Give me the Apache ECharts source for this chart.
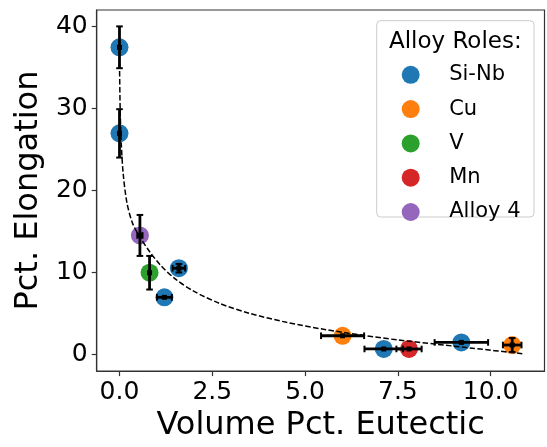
<!DOCTYPE html>
<html>
<head>
<meta charset="utf-8">
<script src="https://cdn.jsdelivr.net/npm/echarts@6/dist/echarts.min.js"></script>
<style>
  html, body { margin: 0; padding: 0; background: #fff; }
  #chart { width: 547px; height: 447px; }
</style>
</head>
<body>
<div id="chart"></div>
<script>
// ---- data ----
const roles = ['Si-Nb', 'Cu', 'V', 'Mn', 'Alloy 4'];
const roleColors = ['#1f77b4', '#ff7f0e', '#2ca02c', '#d62728', '#9467bd'];

const pointRole = ['Si-Nb', 'Si-Nb', 'Si-Nb', 'Si-Nb', 'Si-Nb', 'Si-Nb', 'Cu', 'Cu', 'V', 'Mn', 'Alloy 4'];
const pointX    = [0.0,  0.0,  1.60, 1.21, 7.12, 9.21, 6.01, 10.58, 0.81, 7.80, 0.55];
const pointY    = [37.45, 26.95, 10.5, 6.95, 0.65, 1.45, 2.26, 1.13, 9.95, 0.65, 14.5];
const pointXErr = [0,    0,    0.17, 0.20, 0.52, 0.72, 0.58, 0.25, 0,    0.34, 0.07];
const pointYErr = [2.55, 2.95, 0.52, 0,    0,    0,    0,    0.85, 2.05, 0,    2.5];

const fitX = [0.0, 0.02, 0.05, 0.1, 0.2, 0.35, 0.55, 0.8, 1.1, 1.5, 2.0, 2.7, 3.5, 4.5, 5.5, 6.5, 7.5, 8.5, 9.5, 10.9];
const fitY = [35.5, 29.5, 25.5, 22.0, 18.5, 16.0, 14.3, 12.6, 10.9, 9.2, 7.7, 6.2, 5.0, 3.9, 3.05, 2.35, 1.75, 1.25, 0.75, 0.05];

const xTicks = [0, 2.5, 5, 7.5, 10];
const yTicks = [0, 10, 20, 30, 40];

const FONT = 'DejaVu Sans';

// ---- build series ----
const scatterSeries = roles.map((r, i) => ({
  name: r,
  type: 'scatter',
  symbol: 'circle',
  symbolSize: 18,
  itemStyle: { color: roleColors[i], opacity: 1 },
  z: 2,
  data: pointX.map((x, k) => [x, pointY[k], pointRole[k]]).filter(d => d[2] === r).map(d => [d[0], d[1]])
}));

const errData = pointX.map((x, k) => [x, pointY[k], pointXErr[k], pointYErr[k]]);

const errSeries = {
  type: 'custom',
  z: 4,
  silent: true,
  data: errData,
  encode: { x: 0, y: 1 },
  renderItem: function (params, api) {
    const x = api.value(0), y = api.value(1), xe = api.value(2), ye = api.value(3);
    const c = api.coord([x, y]);
    const st = { stroke: '#000', lineWidth: 2.8 };
    const cs = { stroke: '#000', lineWidth: 2 };
    const cap = 3.3;
    const ch = [];
    if (ye > 0) {
      const t = api.coord([x, y + ye]), b = api.coord([x, y - ye]);
      ch.push({ type: 'line', shape: { x1: c[0], y1: t[1], x2: c[0], y2: b[1] }, style: st });
      ch.push({ type: 'line', shape: { x1: c[0] - cap, y1: t[1], x2: c[0] + cap, y2: t[1] }, style: cs });
      ch.push({ type: 'line', shape: { x1: c[0] - cap, y1: b[1], x2: c[0] + cap, y2: b[1] }, style: cs });
    }
    if (xe > 0) {
      const l = api.coord([x - xe, y]), r = api.coord([x + xe, y]);
      ch.push({ type: 'line', shape: { x1: l[0], y1: c[1], x2: r[0], y2: c[1] }, style: st });
      ch.push({ type: 'line', shape: { x1: l[0], y1: c[1] - cap, x2: l[0], y2: c[1] + cap }, style: cs });
      ch.push({ type: 'line', shape: { x1: r[0], y1: c[1] - cap, x2: r[0], y2: c[1] + cap }, style: cs });
    }
    ch.push({ type: 'rect', shape: { x: c[0] - 2.5, y: c[1] - 2.5, width: 5, height: 5 }, style: { fill: '#000' } });
    return { type: 'group', children: ch };
  }
};

const fitSeries = {
  type: 'line',
  z: 3,
  silent: true,
  showSymbol: false,
  smooth: 0.3,
  lineStyle: { color: '#000', width: 1.5, type: [5.5, 2.4] },
  data: fitX.map((x, k) => [x, fitY[k]])
};

const chart = echarts.init(document.getElementById('chart'), null, { renderer: 'canvas' });
chart.setOption({
  animation: false,
  backgroundColor: '#fff',
  textStyle: { fontFamily: FONT },
  grid: { left: 96.7, right: 2.5, top: 10, bottom: 74.3, show: true, borderColor: '#333', borderWidth: 1.2, containLabel: false },
  xAxis: {
    type: 'value', min: -0.614, max: 11.45,
    name: 'Volume Pct. Eutectic', nameLocation: 'middle', nameGap: 33,
    nameTextStyle: { fontFamily: FONT, fontSize: 32, color: '#000' },
    axisLine: { show: true, onZero: false, lineStyle: { color: '#333', width: 1.2 } },
    axisTick: { show: true, length: 5, lineStyle: { color: '#333', width: 1.2 }, customValues: xTicks },
    axisLabel: { color: '#000', fontFamily: FONT, fontSize: 25, margin: 9, customValues: xTicks, formatter: v => Number(v).toFixed(1) },
    splitLine: { show: false }
  },
  yAxis: {
    type: 'value', min: -2.05, max: 42.0,
    name: 'Pct. Elongation', nameLocation: 'middle', nameGap: 48,
    nameTextStyle: { fontFamily: FONT, fontSize: 32, color: '#000' },
    axisLine: { show: true, onZero: false, lineStyle: { color: '#333', width: 1.2 } },
    axisTick: { show: true, length: 5, lineStyle: { color: '#333', width: 1.2 }, customValues: yTicks },
    axisLabel: { color: '#000', fontFamily: FONT, fontSize: 25, margin: 9, customValues: yTicks, formatter: v => String(v) },
    splitLine: { show: false }
  },
  legend: {
    data: roles,
    orient: 'vertical',
    left: 401.7, top: 64.3,
    padding: 0,
    itemWidth: 67, itemHeight: 18, itemGap: 13.3,
    icon: 'circle',
    z: 110,
    textStyle: { fontFamily: FONT, fontSize: 21, color: '#000', lineHeight: 18 },
    selectedMode: false
  },
  graphic: [
    { type: 'rect', z: 100, shape: { x: 376.7, y: 20.7, width: 157.3, height: 196.3, r: 4 }, style: { fill: 'rgba(255,255,255,0.8)', stroke: '#cccccc', lineWidth: 1 } },
    { type: 'text', z: 101, x: 455.3, y: 41.7, style: { text: 'Alloy Roles:', fontFamily: FONT, fontSize: 23, fill: '#000', align: 'center', verticalAlign: 'middle' } }
  ],
  series: scatterSeries.concat([fitSeries, errSeries])
});
</script>
</body>
</html>
